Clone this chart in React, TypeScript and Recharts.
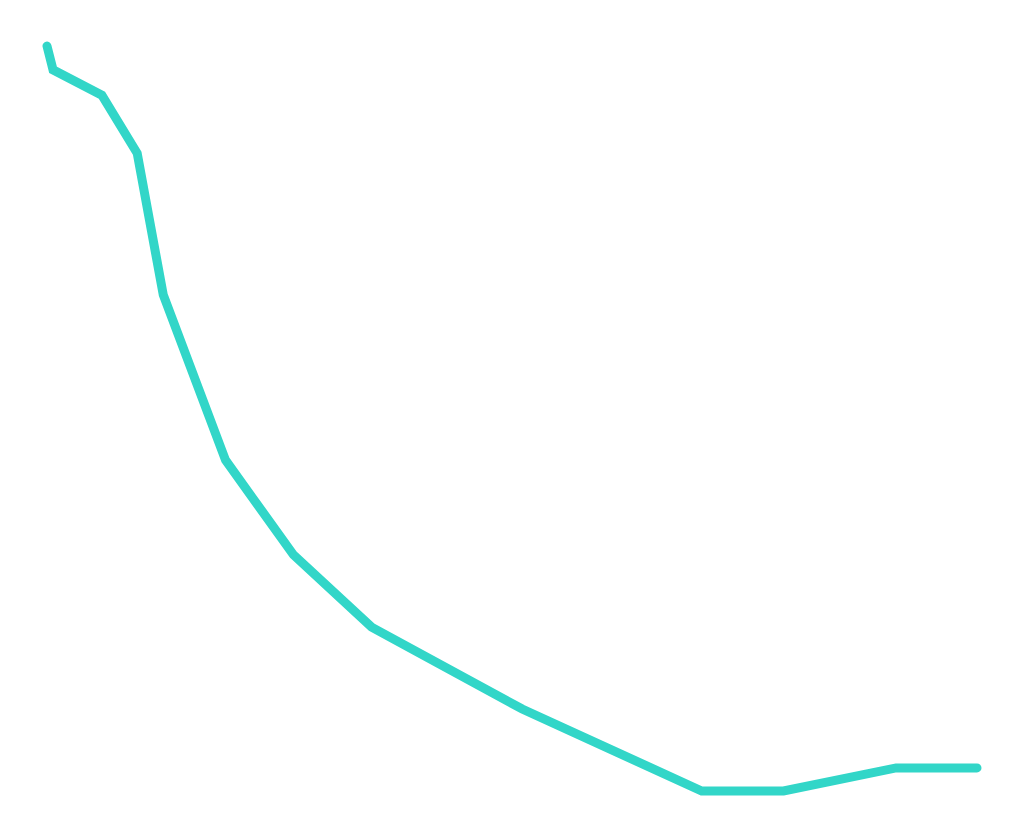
import React from "react";
import { LineChart, Line, XAxis, YAxis } from "recharts";

const xValues = [0, 0.65, 5.9, 9.7, 12.5, 19.2, 26.5, 34.9, 51.1, 70.4, 79.2, 91.3, 100];
const yValues = [100, 96.8, 93.4, 85.6, 66.6, 44.4, 31.7, 22.0, 11.0, 0, 0, 3.1, 3.1];

const data = xValues.map((x, i) => ({ x, y: yValues[i] }));

export default function App() {
  return (
    <div style={{ width: 1008, height: 821 }}>
      <LineChart
        width={1008}
        height={821}
        data={data}
        margin={{ top: 38, right: 39, bottom: 38, left: 39 }}
      >
        <XAxis type="number" dataKey="x" domain={[0, 100]} hide />
        <YAxis type="number" domain={[0, 100]} hide />
        <Line
          type="linear"
          dataKey="y"
          stroke="#32d6c8"
          strokeWidth={9}
          strokeLinecap="round"
          dot={false}
          activeDot={false}
          isAnimationActive={false}
        />
      </LineChart>
    </div>
  );
}
